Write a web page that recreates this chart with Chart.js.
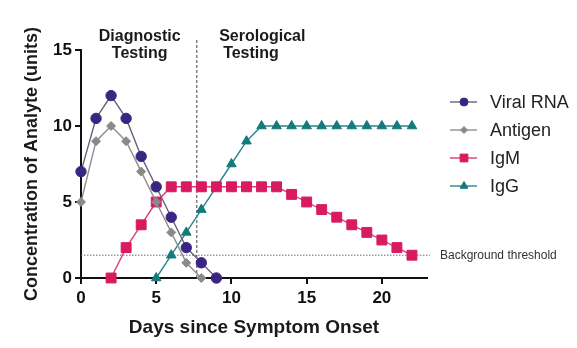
<!DOCTYPE html>
<html>
<head>
<meta charset="utf-8">
<script src="https://cdn.jsdelivr.net/npm/chart.js@4.4.1/dist/chart.umd.min.js"></script>
<style>
  html, body { margin: 0; padding: 0; background: #ffffff; }
  #wrap { width: 577px; height: 348px; position: relative; }
</style>
</head>
<body>
<div id="wrap"><canvas id="chart" width="577" height="348"></canvas></div>
<script>
// Days since symptom onset (x positions of every series)
const days = [0,1,2,3,4,5,6,7,8,9,10,11,12,13,14,15,16,17,18,19,20,21,22];

// Analyte concentrations (units), one value per day, null where not measured
const viralRNA = [7,10.5,12,10.5,8,6,4,2,1,0,null,null,null,null,null,null,null,null,null,null,null,null,null];
const antigen  = [5,9,10,9,7,5,3,1,0,null,null,null,null,null,null,null,null,null,null,null,null,null,null];
const igM      = [null,null,0,2,3.5,5,6,6,6,6,6,6,6,6,5.5,5,4.5,4,3.5,3,2.5,2,1.5];
const igG      = [null,null,null,null,null,0,1.5,3,4.5,null,7.5,9,10,10,10,10,10,10,10,10,10,10,10];

const seriesNames = ['Viral RNA', 'Antigen', 'IgM', 'IgG'];

// Axis ticks
const xTicks = [0, 5, 10, 15, 20];
const yTicks = [0, 5, 10, 15];

// Reference markers
const phaseDividerDay = 7.7;
const backgroundThreshold = 1.5;
const thresholdLabel = 'Background threshold';
const phaseLabels = [
  { lines: ['Diagnostic', 'Testing'], day: [3.9, 3.9] },
  { lines: ['Serological', 'Testing'], day: [12.05, 11.3] }
];

const FONT = "'Liberation Sans', Arial, Helvetica, sans-serif";
const colors = {
  rna:  { point: '#3a2582', line: '#676377' },
  ag:   { point: '#8a8a8a', line: '#8e8e8e' },
  igm:  { point: '#d81b60', line: '#dc3d72' },
  igg:  { point: '#137a7e', line: '#2a8588' }
};

const datasets = [
  { label: seriesNames[0], data: viralRNA, borderColor: colors.rna.line, backgroundColor: colors.rna.point,
    pointBorderColor: colors.rna.point, pointBackgroundColor: colors.rna.point,
    pointStyle: 'circle', pointRadius: 5.2, legendRadius: 4 },
  { label: seriesNames[1], data: antigen, borderColor: colors.ag.line, backgroundColor: colors.ag.point,
    pointBorderColor: colors.ag.point, pointBackgroundColor: colors.ag.point,
    pointStyle: 'rectRot', pointRadius: 4.5, legendRadius: 3.5 },
  { label: seriesNames[2], data: igM, borderColor: colors.igm.line, backgroundColor: colors.igm.point,
    pointBorderColor: colors.igm.point, pointBackgroundColor: colors.igm.point,
    pointStyle: 'rect', pointRadius: 7, legendRadius: 5.5 },
  { label: seriesNames[3], data: igG, borderColor: colors.igg.line, backgroundColor: colors.igg.point,
    pointBorderColor: colors.igg.point, pointBackgroundColor: colors.igg.point,
    pointStyle: 'triangle', pointRadius: 5.5, legendRadius: 4.5 }
].map(d => Object.assign({
  borderWidth: 1.4, pointBorderWidth: 1, tension: 0, spanGaps: true, clip: false, fill: false
}, d));

// Threshold line, phase divider and phase captions
const annotations = {
  id: 'annotations',
  beforeDatasetsDraw(chart) {
    const { ctx, chartArea, scales: { x, y } } = chart;
    ctx.save();
    // background threshold (dotted)
    const ty = y.getPixelForValue(backgroundThreshold);
    ctx.strokeStyle = '#6a6a6a';
    ctx.lineWidth = 1;
    ctx.setLineDash([1.5, 1.5]);
    ctx.beginPath();
    ctx.moveTo(chartArea.left, ty);
    ctx.lineTo(chartArea.right + 3, ty);
    ctx.stroke();
    // phase divider (dashed)
    const dx = x.getPixelForValue(phaseDividerDay);
    ctx.strokeStyle = '#444';
    ctx.setLineDash([3, 2]);
    ctx.beginPath();
    ctx.moveTo(dx, chartArea.top - 10);
    ctx.lineTo(dx, chartArea.bottom);
    ctx.stroke();
    ctx.restore();
  },
  afterDraw(chart) {
    const { ctx, chartArea, scales: { x, y } } = chart;
    ctx.save();
    ctx.fillStyle = '#1a1a1a';
    ctx.font = 'bold 16px ' + FONT;
    ctx.textAlign = 'center';
    ctx.textBaseline = 'alphabetic';
    phaseLabels.forEach(p => {
      p.lines.forEach((t, i) => {
        ctx.fillText(t, x.getPixelForValue(p.day[i]), chartArea.top - 9 + i * 17);
      });
    });
    // threshold caption
    ctx.fillStyle = '#333';
    ctx.font = '12px ' + FONT;
    ctx.textAlign = 'left';
    ctx.textBaseline = 'middle';
    ctx.fillText(thresholdLabel, chartArea.right + 13, y.getPixelForValue(backgroundThreshold));

    // legend
    const lx0 = chartArea.right + 23, lx1 = chartArea.right + 50, mx = chartArea.right + 37;
    const tx = chartArea.right + 63;
    const rowY = [102, 130, 158, 186];
    chart.data.datasets.forEach((ds, i) => {
      const yy = rowY[i];
      ctx.strokeStyle = ds.borderColor;
      ctx.lineWidth = 1.4;
      ctx.beginPath();
      ctx.moveTo(lx0, yy);
      ctx.lineTo(lx1, yy);
      ctx.stroke();
      ctx.fillStyle = ds.pointBackgroundColor;
      ctx.strokeStyle = ds.pointBorderColor;
      ctx.lineWidth = 1;
      Chart.helpers.drawPoint(ctx, { pointStyle: ds.pointStyle, radius: ds.legendRadius, rotation: 0, borderWidth: 1 }, mx, yy);
      ctx.fillStyle = '#222';
      ctx.font = '18px ' + FONT;
      ctx.textAlign = 'left';
      ctx.textBaseline = 'middle';
      ctx.fillText(ds.label, tx, yy + 1);
    });
    ctx.restore();
  }
};

new Chart(document.getElementById('chart'), {
  type: 'line',
  data: { labels: days, datasets },
  plugins: [annotations],
  options: {
    responsive: false,
    animation: false,
    devicePixelRatio: 1,
    layout: { padding: { top: 50, right: 150, left: 0, bottom: 0 } },
    plugins: { legend: { display: false }, tooltip: { enabled: false } },
    scales: {
      x: {
        type: 'linear',
        min: 0, max: 23,
        afterBuildTicks: s => { s.ticks = xTicks.map(v => ({ value: v })); },
        afterFit: s => { s.height = 70; },
        border: { display: true, color: '#111', width: 2 },
        grid: { display: true, drawOnChartArea: false, drawTicks: true, tickLength: 6, color: '#111', lineWidth: 2 },
        ticks: { color: '#111', padding: 4, maxRotation: 0, font: { family: FONT, size: 17, weight: 'bold' } },
        title: { display: true, text: 'Days since Symptom Onset', color: '#1a1a1a',
                 padding: { top: 0, bottom: 9 }, font: { family: FONT, size: 19, weight: 'bold' } }
      },
      y: {
        min: 0, max: 15,
        afterBuildTicks: s => { s.ticks = yTicks.map(v => ({ value: v })); },
        afterFit: s => { s.width = 81; },
        border: { display: true, color: '#111', width: 2 },
        grid: { display: true, drawOnChartArea: false, drawTicks: true, tickLength: 6, color: '#111', lineWidth: 2 },
        ticks: { color: '#111', padding: 3, font: { family: FONT, size: 17, weight: 'bold' } },
        title: { display: true, text: 'Concentration of Analyte (units)', color: '#1a1a1a',
                 padding: { top: 21, bottom: 0 }, font: { family: FONT, size: 18, weight: 'bold' } }
      }
    }
  }
});
</script>
</body>
</html>
